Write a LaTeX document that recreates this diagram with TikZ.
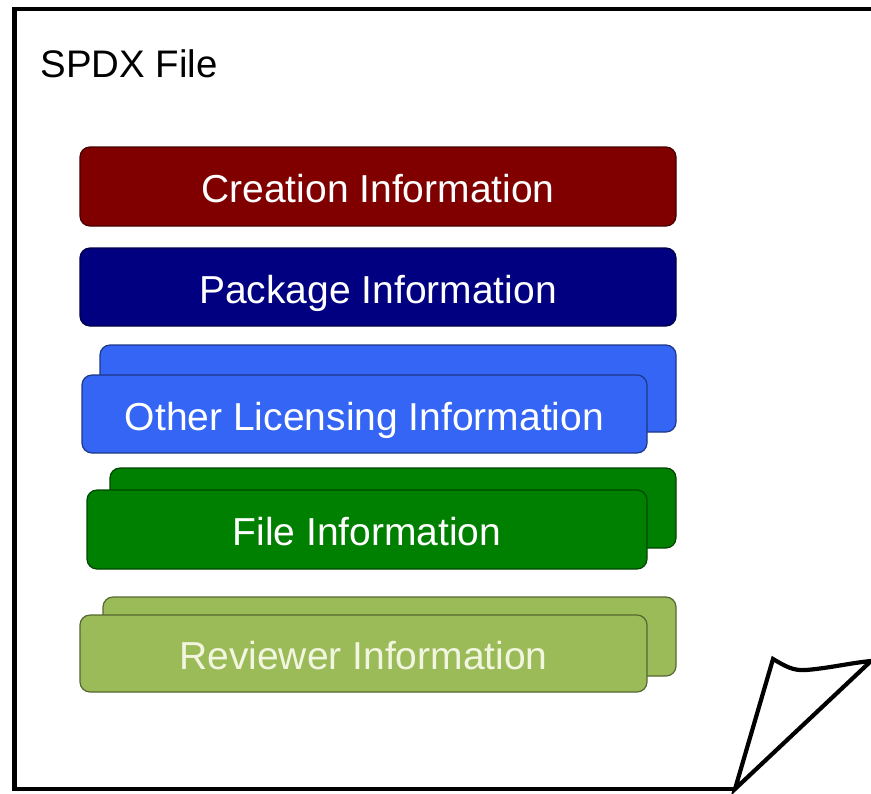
\documentclass[tikz,border=0pt]{standalone}
\usepackage{fontspec}
\setmainfont{Liberation Sans}
\definecolor{creationred}{HTML}{800000}
\definecolor{packageblue}{HTML}{000080}
\definecolor{otherblue}{HTML}{3465F5}
\definecolor{filegreen}{HTML}{008000}
\definecolor{reviewgreen}{HTML}{9BBB59}
\definecolor{reviewtext}{HTML}{F2F6E0}
\tikzset{
        infobox/.style = {draw=#1!55!black, fill=#1,
            rounded corners=5pt, line width=0.6pt,
            inner sep=0pt, text=white,
            text height=16pt, text depth=0pt,
            font=\fontsize{19.5}{23}\selectfont},
        page/.style = {line width=2.1pt, line join=miter},
    }

\begin{document}
\begin{tikzpicture}[x=0.5pt,y=-0.5pt]
  \useasboundingbox (0,0) rectangle (871,793);

  % the sheet, with its corner curled up
  \draw[page] (871,9) -- (14.5,9) -- (14.5,789) -- (735,789);
  \draw[page] (735,789) -- (773,659)
        .. controls (785,666) and (793,671) .. (806,670)
        .. controls (830,668) and (850,663) .. (871,661) -- cycle;

  \node[anchor=base west, inner sep=0pt, font=\fontsize{19.2}{23}\selectfont] (title) at (40,77) {SPDX File};

  \node[infobox=creationred, minimum width=298pt, minimum height=39.5pt] (creation) at (378,186.5) {Creation Information};
  \node[infobox=packageblue, minimum width=298pt, minimum height=39pt] (package) at (378,287) {Package Information};

  % stacked ones: a sheet behind the front box
  \node[infobox=otherblue, minimum width=288pt, minimum height=43.5pt] (otherback) at (388,388.5) {};
  \node[infobox=otherblue, minimum width=282.5pt, minimum height=39pt] (other) at (364.5,414) {Other Licensing Information};

  \node[infobox=filegreen, minimum width=283pt, minimum height=40pt] (fileback) at (393,508) {};
  \node[infobox=filegreen, minimum width=280pt, minimum height=39.5pt] (file) at (367,529.5) {File Information};

  \node[infobox=reviewgreen, minimum width=286.5pt, minimum height=39.5pt] (reviewback) at (389.5,636.5) {};
  \node[infobox=reviewgreen, text=reviewtext, minimum width=283.5pt, minimum height=38.5pt] (review) at (363.5,653.5) {Reviewer Information};
\end{tikzpicture}
\end{document}
